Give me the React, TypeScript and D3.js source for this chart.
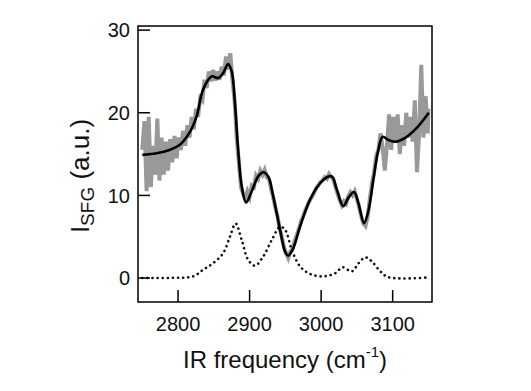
import { useMemo } from "react";
import * as d3 from "d3";

const W = 531;
const H = 391;
const BOX = { left: 138, right: 432, top: 26, bottom: 302 };

const xTicks = [2800, 2900, 3000, 3100];
const yTicks = [0, 10, 20, 30];

// measured SFG intensity (gray, noisy), every 3 cm-1
const measFreq = [
  2750, 2753, 2756, 2759, 2762, 2765, 2768, 2771, 2774, 2777, 2780, 2783, 2786, 2789, 2792, 2795, 2798,
  2801, 2804, 2807, 2810, 2813, 2816, 2819, 2822, 2825, 2828, 2831, 2834, 2837, 2840, 2843, 2846, 2849,
  2852, 2855, 2858, 2861, 2864, 2867, 2870, 2873, 2876, 2879, 2882, 2885, 2888, 2891, 2894, 2897, 2900,
  2903, 2906, 2909, 2912, 2915, 2918, 2921, 2924, 2927, 2930, 2933, 2936, 2939, 2942, 2945, 2948, 2951,
  2954, 2957, 2960, 2963, 2966, 2969, 2972, 2975, 2978, 2981, 2984, 2987, 2990, 2993, 2996, 2999, 3002,
  3005, 3008, 3011, 3014, 3017, 3020, 3023, 3026, 3029, 3032, 3035, 3038, 3041, 3044, 3047, 3050, 3053,
  3056, 3059, 3062, 3065, 3068, 3071, 3074, 3077, 3080, 3083, 3086, 3089, 3092, 3095, 3098, 3101, 3104,
  3107, 3110, 3113, 3116, 3119, 3122, 3125, 3128, 3131, 3134, 3137, 3140, 3143, 3146, 3149, 3150,
];
const measValue = [
  15.5, 19.0, 10.5, 19.5, 11.0, 16.0, 12.5, 19.3, 11.8, 17.0, 12.5, 16.5, 13.0, 16.8, 14.0, 17.2, 14.5,
  17.0, 15.5, 17.8, 16.0, 18.5, 17.0, 19.5, 18.0, 20.5, 19.5, 21.8, 21.5, 24.0, 23.0, 25.0, 23.8, 25.2,
  23.9, 25.0, 24.0, 25.6, 24.5, 26.8, 25.2, 27.2, 24.0, 21.5, 17.0, 14.0, 11.0, 10.2, 9.6, 10.5, 9.8,
  11.2, 11.0, 12.4, 12.0, 13.0, 12.5, 13.1, 12.2, 12.0, 10.8, 9.8, 8.5, 7.5, 6.0, 5.0, 3.8, 3.0,
  2.4, 3.2, 3.5, 4.5, 5.2, 6.0, 6.9, 7.5, 8.2, 8.8, 9.4, 9.8, 10.3, 10.9, 11.2, 11.6, 11.8,
  12.2, 12.0, 12.6, 12.2, 12.0, 11.0, 10.2, 9.4, 8.8, 9.3, 9.0, 9.9, 10.4, 10.0, 10.5, 9.6, 8.6,
  7.5, 6.6, 6.3, 7.4, 9.5, 11.4, 12.8, 14.8, 15.5, 17.5, 15.8, 13.0, 16.0, 19.8, 15.5, 19.5, 16.5,
  19.8, 15.0, 18.5, 16.0, 20.0, 17.0, 19.5, 16.5, 21.5, 12.8, 17.5, 25.8, 17.0, 22.0, 17.5, 20.5,
];

// fitted curve (black)
const fitFreq = [
  2750, 2770, 2788, 2802, 2816, 2826, 2835, 2847, 2856, 2863, 2870, 2875, 2879.5, 2884, 2889, 2895,
  2903, 2912, 2919, 2926, 2933, 2942.6, 2949.6, 2954, 2961, 2970.6, 2984.6, 2998.7, 3008, 3015, 3022,
  3031, 3038, 3046, 3052, 3060, 3066, 3073, 3080, 3086, 3094, 3104, 3118, 3134, 3150.5,
];
const fitValue = [
  14.9, 15.1, 15.5, 16.1, 17.6, 19.6, 22.8, 24.4, 24.2, 24.8, 25.9, 25.0, 21.2, 15.5, 11.1, 9.15,
  10.5, 12.3, 12.8, 12.3, 9.9, 5.85, 3.2, 2.7, 3.6, 6.25, 9.5, 11.5, 12.2, 12.3, 10.7,
  8.7, 9.7, 10.4, 9.1, 6.65, 8.1, 11.9, 15.5, 17.1, 16.7, 16.5, 17.0, 18.2, 20.0,
];

// resonant components (dotted)
const compFreq = [
  2750, 2790, 2821, 2835, 2849, 2863, 2872.5, 2880.5, 2889, 2898, 2907.5, 2919, 2931, 2942.6, 2949.6,
  2959, 2970.6, 2984.6, 3003, 3020, 3030, 3043, 3052.4, 3061.8, 3071, 3082.8, 3094, 3146,
];
const compValue = [
  0, 0.02, 0.2, 1.0, 1.8, 3.0, 5.0, 6.6, 4.6, 2.2, 1.5, 2.6, 4.6, 6.2, 5.85,
  3.4, 1.4, 0.5, 0.2, 0.6, 1.3, 0.8, 1.8, 2.5, 2.0, 0.8, 0.1, 0.05,
];

const font = "'Liberation Sans', Arial, Helvetica, sans-serif";

export default function App() {
  const x = useMemo(() => d3.scaleLinear().domain([2744, 3155]).range([BOX.left, BOX.right]), []);
  const y = useMemo(() => d3.scaleLinear().domain([-2.9, 30.5]).range([BOX.bottom, BOX.top]), []);

  const meas = measFreq.map((f, i) => [f, measValue[i]] as [number, number]);
  const fit = fitFreq.map((f, i) => [f, fitValue[i]] as [number, number]);
  const comp = compFreq.map((f, i) => [f, compValue[i]] as [number, number]);

  const linear = d3.line<[number, number]>().x((d) => x(d[0])).y((d) => y(d[1]));
  const smooth = d3
    .line<[number, number]>()
    .x((d) => x(d[0]))
    .y((d) => y(d[1]))
    .curve(d3.curveCatmullRom.alpha(0.5));

  return (
    <svg width={W} height={H} style={{ position: "absolute", left: 0, top: 0, background: "#fff" }} fontFamily={font}>
      <defs>
        <clipPath id="plot">
          <rect x={BOX.left} y={BOX.top} width={BOX.right - BOX.left} height={BOX.bottom - BOX.top} />
        </clipPath>
      </defs>

      <g clipPath="url(#plot)">
        <path d={linear(meas) ?? ""} fill="none" stroke="#999" strokeWidth={4} strokeLinejoin="miter" />
        <path
          d={smooth(comp) ?? ""}
          fill="none"
          stroke="#111"
          strokeWidth={2.6}
          strokeDasharray="0.1 5"
          strokeLinecap="round"
        />
        <path d={smooth(fit) ?? ""} fill="none" stroke="#000" strokeWidth={2.6} strokeLinejoin="round" />
      </g>

      <rect
        x={BOX.left}
        y={BOX.top}
        width={BOX.right - BOX.left}
        height={BOX.bottom - BOX.top}
        fill="none"
        stroke="#000"
        strokeWidth={1.5}
      />

      {yTicks.map((t) => (
        <g key={"y" + t}>
          <line x1={BOX.left} x2={BOX.left + 12} y1={y(t)} y2={y(t)} stroke="#000" strokeWidth={1.5} />
          <text x={130} y={y(t)} dy="0.36em" textAnchor="end" fontSize={20} fill="#111">
            {t}
          </text>
        </g>
      ))}

      {xTicks.map((t) => (
        <g key={"x" + t}>
          <line x1={x(t)} x2={x(t)} y1={BOX.bottom} y2={BOX.bottom - 12} stroke="#000" strokeWidth={1.5} />
          <text x={x(t)} y={331} textAnchor="middle" fontSize={20} fill="#111">
            {t}
          </text>
        </g>
      ))}

      <text x={285} y={368} textAnchor="middle" fontSize={24} fill="#111">
        IR frequency (cm
        <tspan fontSize={15} dy={-11}>-1</tspan>
        <tspan dy={11}>)</tspan>
      </text>

      <text transform="translate(89,176) rotate(-90)" textAnchor="middle" fontSize={26} fill="#111">
        I
        <tspan fontSize={19} dy={5}>SFG</tspan>
        <tspan dy={-5}> (a.u.)</tspan>
      </text>
    </svg>
  );
}
